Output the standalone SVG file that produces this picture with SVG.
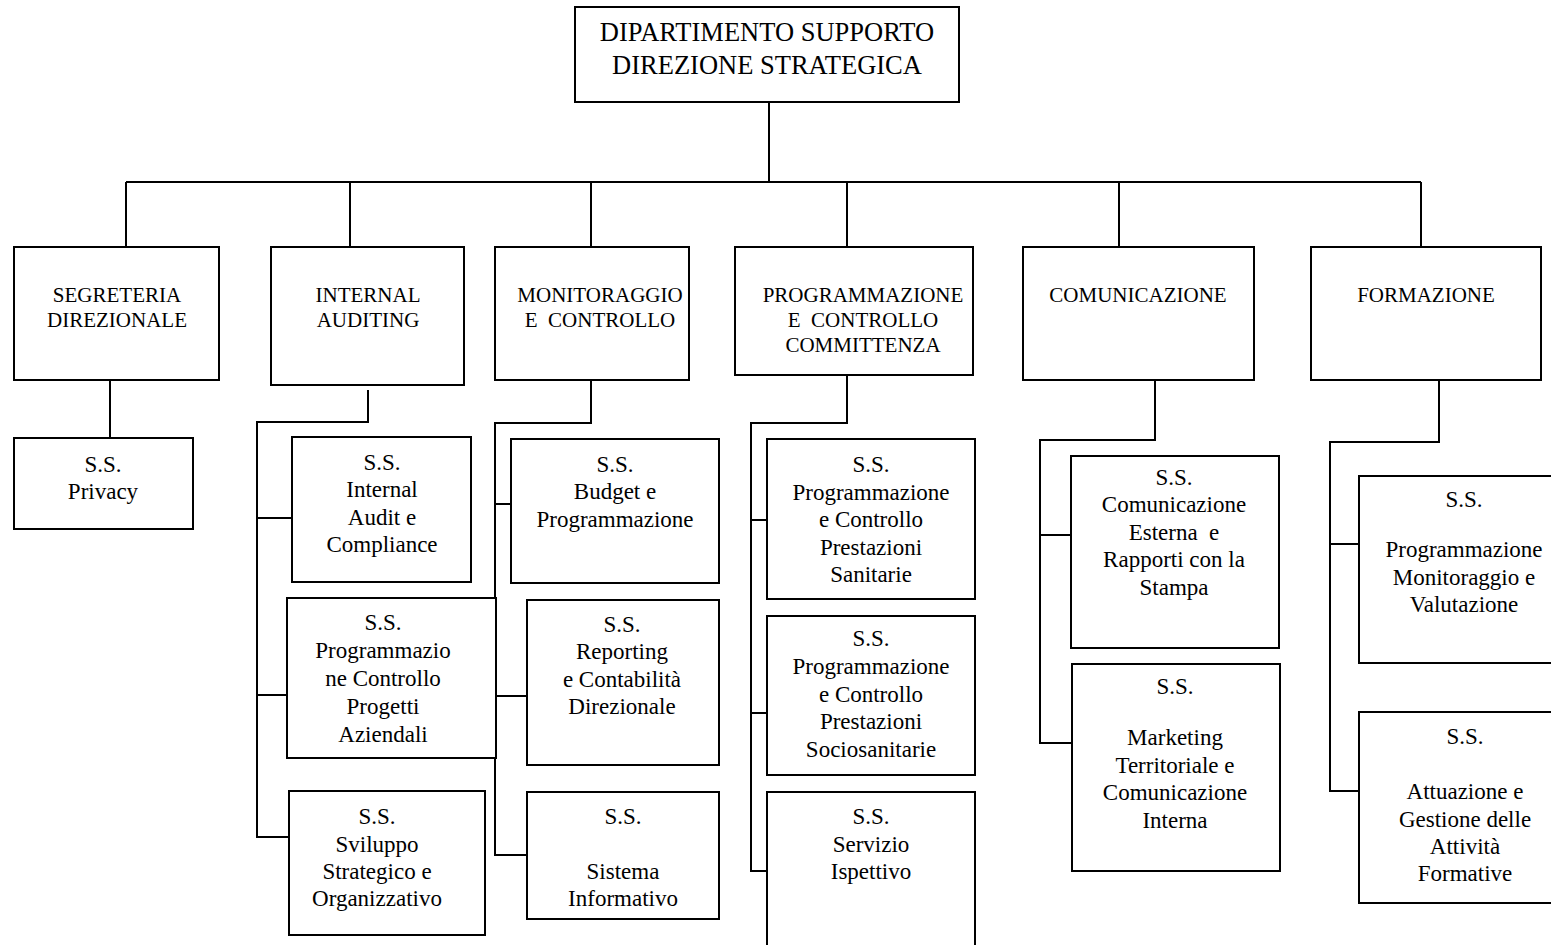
<svg xmlns="http://www.w3.org/2000/svg" width="1551" height="945" viewBox="0 0 1551 945" font-family="'Liberation Serif', 'Times New Roman', 'DejaVu Serif', serif">
<style>
  .box { fill: #fff; stroke: #000; stroke-width: 2; }
  .ln { fill: none; stroke: #000; stroke-width: 2; }
  text { fill: #000; text-anchor: middle; white-space: pre; }
  .t0 { font-size: 26.5px; }
  .t1 { font-size: 21px; }
  .t2 { font-size: 23px; }
</style>
<rect width="1551" height="945" fill="#fff"/>
<g id="connectors">
  <path class="ln" d="M769 102 V182 M126 182 H1421 M126 182 V247 M350 182 V247 M591 182 V247 M847 182 V247 M1119 182 V247 M1421 182 V247"/>
  <path class="ln" d="M110 375 V438"/>
  <path class="ln" d="M368 390 V422 H257 V837 H289 M257 518 H292 M257 695 H287"/>
  <path class="ln" d="M591 375 V423 H495 V855 H527 M495 504 H511 M495 696 H527"/>
  <path class="ln" d="M847 375 V423 H751 V871 H767 M751 520 H767 M751 713 H767"/>
  <path class="ln" d="M1155 380 V440 H1040 V743 H1072 M1040 535 H1071"/>
  <path class="ln" d="M1439 380 V442 H1330 V791 H1359 M1330 544 H1359"/>
</g>
<g id="n-root">
  <rect class="box" x="575" y="7" width="384" height="95"/>
  <text class="t0" x="767" y="41">DIPARTIMENTO SUPPORTO</text>
  <text class="t0" x="767" y="74">DIREZIONE STRATEGICA</text>
</g>
<g id="n-seg">
  <rect class="box" x="14" y="247" width="205" height="133"/>
  <text class="t1" x="117" y="302">SEGRETERIA</text>
  <text class="t1" x="117" y="327">DIREZIONALE</text>
</g>
<g id="n-ia">
  <rect class="box" x="271" y="247" width="193" height="138"/>
  <text class="t1" x="368" y="302">INTERNAL</text>
  <text class="t1" x="368" y="327">AUDITING</text>
</g>
<g id="n-mc">
  <rect class="box" x="495" y="247" width="194" height="133"/>
  <text class="t1" x="600" y="302">MONITORAGGIO</text>
  <text class="t1" x="600" y="327">E  CONTROLLO</text>
</g>
<g id="n-pcc">
  <rect class="box" x="735" y="247" width="238" height="128"/>
  <text class="t1" x="863" y="302">PROGRAMMAZIONE</text>
  <text class="t1" x="863" y="327">E  CONTROLLO</text>
  <text class="t1" x="863" y="352">COMMITTENZA</text>
</g>
<g id="n-com">
  <rect class="box" x="1023" y="247" width="231" height="133"/>
  <text class="t1" x="1138" y="302">COMUNICAZIONE</text>
</g>
<g id="n-for">
  <rect class="box" x="1311" y="247" width="230" height="133"/>
  <text class="t1" x="1426" y="302">FORMAZIONE</text>
</g>
<g id="n-privacy">
  <rect class="box" x="14" y="438" width="179" height="91"/>
  <text class="t2" x="103" y="472">S.S.</text>
  <text class="t2" x="103" y="499">Privacy</text>
</g>
<g id="n-ia1">
  <rect class="box" x="292" y="437" width="179" height="145"/>
  <text class="t2" x="382" y="470">S.S.</text>
  <text class="t2" x="382" y="497">Internal</text>
  <text class="t2" x="382" y="525">Audit e</text>
  <text class="t2" x="382" y="552">Compliance</text>
</g>
<g id="n-ia2">
  <rect class="box" x="287" y="598" width="209" height="160"/>
  <text class="t2" x="383" y="630">S.S.</text>
  <text class="t2" x="383" y="658">Programmazio</text>
  <text class="t2" x="383" y="686">ne Controllo</text>
  <text class="t2" x="383" y="714">Progetti</text>
  <text class="t2" x="383" y="742">Aziendali</text>
</g>
<g id="n-ia3">
  <rect class="box" x="289" y="791" width="196" height="144"/>
  <text class="t2" x="377" y="824">S.S.</text>
  <text class="t2" x="377" y="852">Sviluppo</text>
  <text class="t2" x="377" y="879">Strategico e</text>
  <text class="t2" x="377" y="906">Organizzativo</text>
</g>
<g id="n-mc1">
  <rect class="box" x="511" y="439" width="208" height="144"/>
  <text class="t2" x="615" y="472">S.S.</text>
  <text class="t2" x="615" y="499">Budget e</text>
  <text class="t2" x="615" y="527">Programmazione</text>
</g>
<g id="n-mc2">
  <rect class="box" x="527" y="600" width="192" height="165"/>
  <text class="t2" x="622" y="632">S.S.</text>
  <text class="t2" x="622" y="659">Reporting</text>
  <text class="t2" x="622" y="687">e Contabilità</text>
  <text class="t2" x="622" y="714">Direzionale</text>
</g>
<g id="n-mc3">
  <rect class="box" x="527" y="792" width="192" height="127"/>
  <text class="t2" x="623" y="824">S.S.</text>
  <text class="t2" x="623" y="879">Sistema</text>
  <text class="t2" x="623" y="906">Informativo</text>
</g>
<g id="n-pcc1">
  <rect class="box" x="767" y="439" width="208" height="160"/>
  <text class="t2" x="871" y="472">S.S.</text>
  <text class="t2" x="871" y="500">Programmazione</text>
  <text class="t2" x="871" y="527">e Controllo</text>
  <text class="t2" x="871" y="555">Prestazioni</text>
  <text class="t2" x="871" y="582">Sanitarie</text>
</g>
<g id="n-pcc2">
  <rect class="box" x="767" y="616" width="208" height="159"/>
  <text class="t2" x="871" y="646">S.S.</text>
  <text class="t2" x="871" y="674">Programmazione</text>
  <text class="t2" x="871" y="702">e Controllo</text>
  <text class="t2" x="871" y="729">Prestazioni</text>
  <text class="t2" x="871" y="757">Sociosanitarie</text>
</g>
<g id="n-pcc3">
  <rect class="box" x="767" y="792" width="208" height="160"/>
  <text class="t2" x="871" y="824">S.S.</text>
  <text class="t2" x="871" y="852">Servizio</text>
  <text class="t2" x="871" y="879">Ispettivo</text>
</g>
<g id="n-com1">
  <rect class="box" x="1071" y="456" width="208" height="192"/>
  <text class="t2" x="1174" y="485">S.S.</text>
  <text class="t2" x="1174" y="512">Comunicazione</text>
  <text class="t2" x="1174" y="540">Esterna  e</text>
  <text class="t2" x="1174" y="567">Rapporti con la</text>
  <text class="t2" x="1174" y="595">Stampa</text>
</g>
<g id="n-com2">
  <rect class="box" x="1072" y="664" width="208" height="207"/>
  <text class="t2" x="1175" y="694">S.S.</text>
  <text class="t2" x="1175" y="745">Marketing</text>
  <text class="t2" x="1175" y="773">Territoriale e</text>
  <text class="t2" x="1175" y="800">Comunicazione</text>
  <text class="t2" x="1175" y="828">Interna</text>
</g>
<g id="n-for1">
  <rect class="box" x="1359" y="476" width="200" height="187"/>
  <text class="t2" x="1464" y="507">S.S.</text>
  <text class="t2" x="1464" y="557">Programmazione</text>
  <text class="t2" x="1464" y="585">Monitoraggio e</text>
  <text class="t2" x="1464" y="612">Valutazione</text>
</g>
<g id="n-for2">
  <rect class="box" x="1359" y="712" width="200" height="191"/>
  <text class="t2" x="1465" y="744">S.S.</text>
  <text class="t2" x="1465" y="799">Attuazione e</text>
  <text class="t2" x="1465" y="827">Gestione delle</text>
  <text class="t2" x="1465" y="854">Attività</text>
  <text class="t2" x="1465" y="881">Formative</text>
</g>
</svg>
